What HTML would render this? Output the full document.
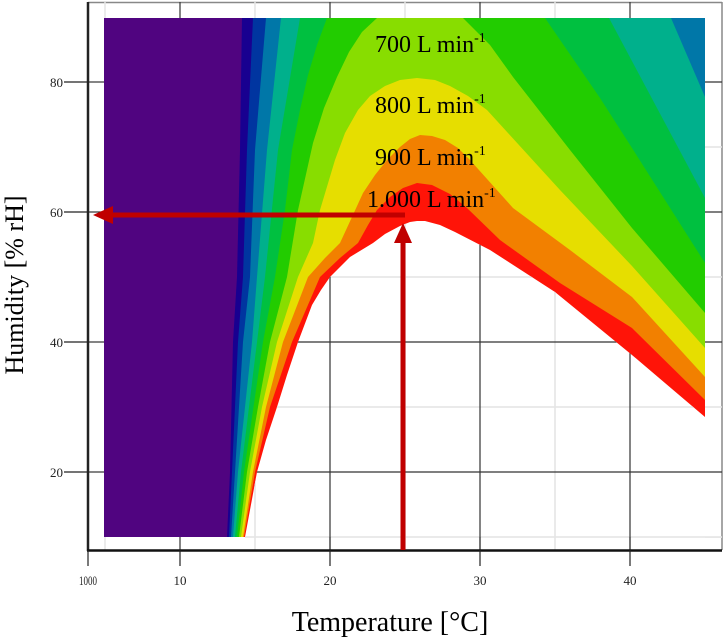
<!DOCTYPE html>
<html><head><meta charset="utf-8"><style>
html,body{margin:0;padding:0;background:#fff;}
svg{display:block;}
</style></head><body>
<svg width="724" height="638" xmlns="http://www.w3.org/2000/svg">
<defs>
<clipPath id="wc"><polygon points="245,537 257,472 266,440 277,407 287,375 298,342 312,305 321,290 330,277 350,257 373,243 385,234 400,226 410,222 417,221 425,221 440,225 455,232 490,250 555,292 632,355 705,417 705,537 722,537 722,550 245,550"/></clipPath>
</defs>
<rect width="724" height="638" fill="#fff"/>
<line x1="88" y1="2.5" x2="722" y2="2.5" stroke="#888" stroke-width="1.5"/>
<line x1="722" y1="2" x2="722" y2="550" stroke="#888" stroke-width="1.5"/>
<rect x="104" y="18" width="601" height="519" fill="#500480"/>
<polygon fill="#180090" points="227,537 230,472 233,342 237,277 240,150 242,18 705,18 705,537"/>
<polygon fill="#0035a0" points="229,537 232,472 238,342 243,277 247,150 253,18 705,18 705,537"/>
<polygon fill="#0077a8" points="231,537 235,472 243,342 250,277 255,150 266,18 705,18 705,537"/>
<polygon fill="#00b08c" points="233,537 238,472 252,342 257,277 267,150 281,18 671,18 705,97 705,537"/>
<polygon fill="#00c040" points="235,537 241,472 257,342 265,277 278,150 300,18 609,18 705,198 705,537"/>
<polygon fill="#22cc00" points="237,537 244,472 263,342 275,277 285,210 292,150 300,110 308,75 317,45 327,18 545,18 600,98 632,148 705,263 705,537"/>
<polygon fill="#88dd00" points="239,537 247,472 258,407 270,342 287,277 298,210 313,143 324,108 337,77 349,52 362,32 377,18 463,18 490,45 513,77 570,150 632,228 705,313 705,537"/>
<polygon fill="#e6de00" points="241,537 250,472 262,407 277,342 298,277 313,243 320,210 335,160 345,133 358,110 370,96 385,86 400,80 417,78 435,80 450,86 468,96 487,110 560,190 632,266 705,348 705,537"/>
<polygon fill="#f28000" points="243,537 253,472 266,407 283,342 308,277 325,258 340,243 352,217 363,193 375,175 387,160 400,147 410,139 420,135 432,136 445,140 458,148 470,160 513,208 570,250 632,297 705,377 705,537"/>
<polygon fill="#ff1408" points="244,537 255,472 270,407 292,342 320,277 340,258 358,243 368,225 377,210 390,197 403,188 417,183 432,185 450,194 467,208 500,240 560,283 632,328 705,400 705,537"/>
<polygon fill="#ffffff" points="245,537 257,472 266,440 277,407 287,375 298,342 312,305 321,290 330,277 350,257 373,243 385,234 400,226 410,222 417,221 425,221 440,225 455,232 490,250 555,292 632,355 705,417 705,537"/>
<g clip-path="url(#wc)">
<g stroke="#e4e4e4" stroke-width="1.5">
<line x1="255" y1="2" x2="255" y2="550"/><line x1="405" y1="2" x2="405" y2="550"/><line x1="555" y1="2" x2="555" y2="550"/>
<line x1="88" y1="277" x2="722" y2="277"/><line x1="88" y1="407" x2="722" y2="407"/><line x1="88" y1="537" x2="722" y2="537"/>
</g>
<g stroke="#333" stroke-width="1.2">
<line x1="330" y1="2" x2="330" y2="550"/><line x1="480" y1="2" x2="480" y2="550"/><line x1="630" y1="2" x2="630" y2="550"/>
<line x1="88" y1="342" x2="722" y2="342"/><line x1="88" y1="472" x2="722" y2="472"/>
</g>
</g>
<g stroke="#e4e4e4" stroke-width="1.5">
<line x1="105" y1="537" x2="105" y2="550"/><line x1="555" y1="2" x2="555" y2="18"/><line x1="405" y1="2" x2="405" y2="18"/><line x1="255" y1="2" x2="255" y2="18"/><line x1="105" y1="2" x2="105" y2="18"/>
<line x1="705" y1="147" x2="722" y2="147"/><line x1="705" y1="277" x2="722" y2="277"/><line x1="705" y1="407" x2="722" y2="407"/><line x1="705" y1="537" x2="722" y2="537"/>
</g>
<g stroke="#333" stroke-width="1.2">
<line x1="180" y1="2" x2="180" y2="18"/><line x1="330" y1="2" x2="330" y2="18"/><line x1="480" y1="2" x2="480" y2="18"/><line x1="630" y1="2" x2="630" y2="18"/>
<line x1="180" y1="537" x2="180" y2="550"/><line x1="330" y1="537" x2="330" y2="550"/><line x1="480" y1="537" x2="480" y2="550"/><line x1="630" y1="537" x2="630" y2="550"/>
<line x1="88" y1="82" x2="104" y2="82"/><line x1="88" y1="212" x2="104" y2="212"/><line x1="88" y1="342" x2="104" y2="342"/><line x1="88" y1="472" x2="104" y2="472"/>
<line x1="705" y1="82" x2="722" y2="82"/><line x1="705" y1="212" x2="722" y2="212"/><line x1="705" y1="342" x2="722" y2="342"/><line x1="705" y1="472" x2="722" y2="472"/>
</g>
<line x1="88" y1="2" x2="88" y2="551" stroke="#222" stroke-width="2.5"/>
<line x1="87" y1="550.5" x2="722" y2="550.5" stroke="#111" stroke-width="2.5"/>
<g stroke="#222" stroke-width="1.2">
<line x1="88" y1="550" x2="88" y2="566"/><line x1="180" y1="550" x2="180" y2="566"/>
<line x1="330" y1="550" x2="330" y2="566"/><line x1="480" y1="550" x2="480" y2="566"/>
<line x1="630" y1="550" x2="630" y2="566"/>
<line x1="64" y1="82" x2="88" y2="82"/><line x1="64" y1="212" x2="88" y2="212"/>
<line x1="64" y1="342" x2="88" y2="342"/><line x1="64" y1="472" x2="88" y2="472"/>
</g>
<g font-family="Liberation Serif, serif" font-size="13" fill="#222">
<text x="88" y="585" text-anchor="middle" textLength="18" lengthAdjust="spacingAndGlyphs">1000</text>
<text x="180" y="585" text-anchor="middle">10</text>
<text x="330" y="585" text-anchor="middle">20</text>
<text x="480" y="585" text-anchor="middle">30</text>
<text x="630" y="585" text-anchor="middle">40</text>
<text x="63" y="87" text-anchor="end">80</text>
<text x="63" y="217" text-anchor="end">60</text>
<text x="63" y="347" text-anchor="end">40</text>
<text x="63" y="477" text-anchor="end">20</text>
</g>
<g font-family="Liberation Serif, serif" font-size="24" fill="#000">
<text x="375" y="52">700 L min<tspan font-size="14" dy="-10">-1</tspan></text>
<text x="375" y="113">800 L min<tspan font-size="14" dy="-10">-1</tspan></text>
<text x="375" y="165">900 L min<tspan font-size="14" dy="-10">-1</tspan></text>
<text x="367" y="207">1.000 L min<tspan font-size="14" dy="-10">-1</tspan></text>
</g>
<line x1="110" y1="215" x2="405" y2="215" stroke="#c00000" stroke-width="5"/>
<polygon points="93,215 113,206 113,224" fill="#c00000"/>
<line x1="403" y1="550" x2="403" y2="240" stroke="#c00000" stroke-width="5"/>
<polygon points="403,223 394,243 412,243" fill="#c00000"/>
<g font-family="Liberation Serif, serif" fill="#000">
<text x="390" y="631" text-anchor="middle" font-size="28">Temperature [°C]</text>
<text transform="translate(23,285) rotate(-90)" text-anchor="middle" font-size="26">Humidity [% rH]</text>
</g>
</svg>
</body></html>
